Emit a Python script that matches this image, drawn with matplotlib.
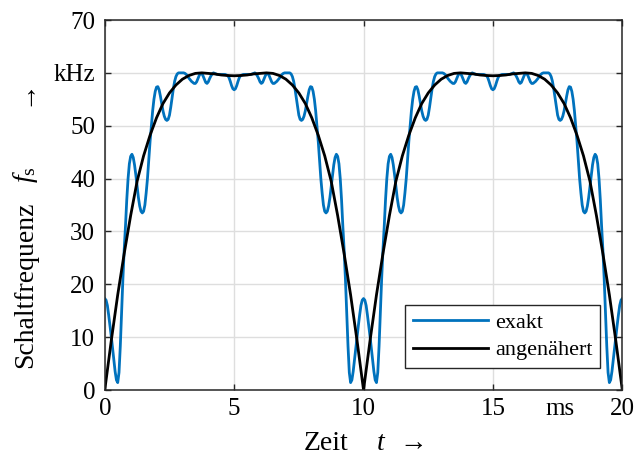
import numpy as np
import matplotlib
matplotlib.use("Agg")
import matplotlib.pyplot as plt

plt.rcParams['font.family'] = ['Liberation Serif', 'DejaVu Serif']
plt.rcParams['mathtext.fontset'] = 'custom'
plt.rcParams['mathtext.rm'] = 'Liberation Serif'
plt.rcParams['mathtext.it'] = 'Liberation Serif:italic'

# one half period (0 ... 5 ms), the curves are symmetric about 5 ms
# and repeat every 10 ms
t_exakt = np.linspace(0, 5, 101)
f_exakt = [17.3, 17.0, 16.0, 14.2, 12.2, 10.2, 8.0, 5.7, 3.5, 1.9,
           1.4, 3.3, 8.3, 14.8, 21.0, 26.5, 31.0, 36.0, 40.0, 42.8,
           44.2, 44.6, 44.0, 42.6, 40.7, 38.5, 36.4, 34.8, 33.8, 33.5,
           33.8, 35.0, 37.3, 40.0, 43.5, 47.0, 50.0, 52.8, 55.0, 56.5,
           57.3, 57.4, 56.8, 55.6, 54.2, 52.8, 51.8, 51.2, 51.0, 51.2,
           52.0, 53.5, 55.3, 57.0, 58.4, 59.3, 59.8, 60.0, 60.0, 60.0,
           60.0, 60.0, 59.9, 59.7, 59.4, 59.0, 58.7, 58.4, 58.2, 58.0,
           58.0, 58.3, 58.9, 59.5, 59.9, 59.9, 59.4, 58.8, 58.2, 58.0,
           58.3, 58.9, 59.4, 59.8, 60.0, 59.9, 59.8, 59.7, 59.7, 59.7,
           59.7, 59.7, 59.7, 59.7, 59.6, 59.5, 59.1, 58.4, 57.6, 57.0,
           56.8]

t_appr = np.linspace(0, 5, 21)
f_appr = [0.0, 9.3, 18.0, 25.8, 33.0, 39.5, 44.3, 48.2, 51.5, 54.2,
          56.2, 57.7, 58.8, 59.5, 59.9, 60.0, 59.9, 59.8, 59.6, 59.5,
          59.45]

yticks = [0, 10, 20, 30, 40, 50, 60, 70]
ylabels = ['0', '10', '20', '30', '40', '50', 'kHz', '70']
xticks = [0, 5, 10, 15, 20]


def two_periods(t, f):
    t = np.asarray(t)
    f = np.asarray(f)
    tp = np.concatenate([t, 10 - t[::-1][1:]])
    fp = np.concatenate([f, f[::-1][1:]])
    return np.concatenate([tp, tp[1:] + 10]), np.concatenate([fp, fp[1:]])


te, fe = two_periods(t_exakt, f_exakt)
ta, fa = two_periods(t_appr, f_appr)

fig = plt.figure(figsize=(6.35, 4.57), dpi=100)
ax = fig.add_axes([0.165, 0.1466, 0.815, 0.8096])

ax.plot(te, fe, color='#0072BD', lw=2.0, label='exakt')
ax.plot(ta, fa, color='black', lw=2.0, label='angenähert')

ax.set_xlim(0, 20)
ax.set_ylim(0, 70)
ax.set_xticks(xticks)
ax.set_xticklabels([str(x) for x in xticks])
ax.set_yticks(yticks)
ax.set_yticklabels(ylabels)
ax.set_xticks([17.6], ['ms'], minor=True)
ax.grid(True, which='major', color='#dedede', lw=1.0)
ax.set_axisbelow(True)

ax.tick_params(which='major', direction='in', length=4, width=1,
               top=True, right=True, labelsize=18, color='#262626')
ax.tick_params(axis='y', pad=7)
ax.tick_params(axis='x', pad=6)
ax.tick_params(which='minor', length=0, labelsize=18, pad=6)
for s in ax.spines.values():
    s.set_linewidth(1.1)
    s.set_color('#262626')

leg = ax.legend(loc='lower right', bbox_to_anchor=(0.957, 0.059),
                borderaxespad=0, fancybox=False, framealpha=1,
                edgecolor='#262626', fontsize=16, handlelength=3.4,
                borderpad=0.35, labelspacing=0.3, handletextpad=0.3)
leg.get_frame().set_linewidth(1.0)

# axis labels, placed piece by piece
lab = dict(fontsize=20, rotation=90, rotation_mode='anchor',
           ha='center', va='baseline', transform=ax.transAxes)
ax.text(-0.141, 0.285, 'Schaltfrequenz', **lab)
ax.text(-0.141, 0.581, r'$f_{\mathrm{s}}$', **lab)
ax.text(-0.141, 0.805, '→', **lab)

xl = dict(fontsize=20, ha='center', va='baseline', transform=ax.transAxes)
ax.text((326 - 105) / 517, -0.162, 'Zeit', **xl)
ax.text((381 - 105) / 517, -0.162, r'$t$', **xl)
ax.text((413 - 105) / 517, -0.162, '→', **xl)

fig.savefig('out.png', dpi=100)
